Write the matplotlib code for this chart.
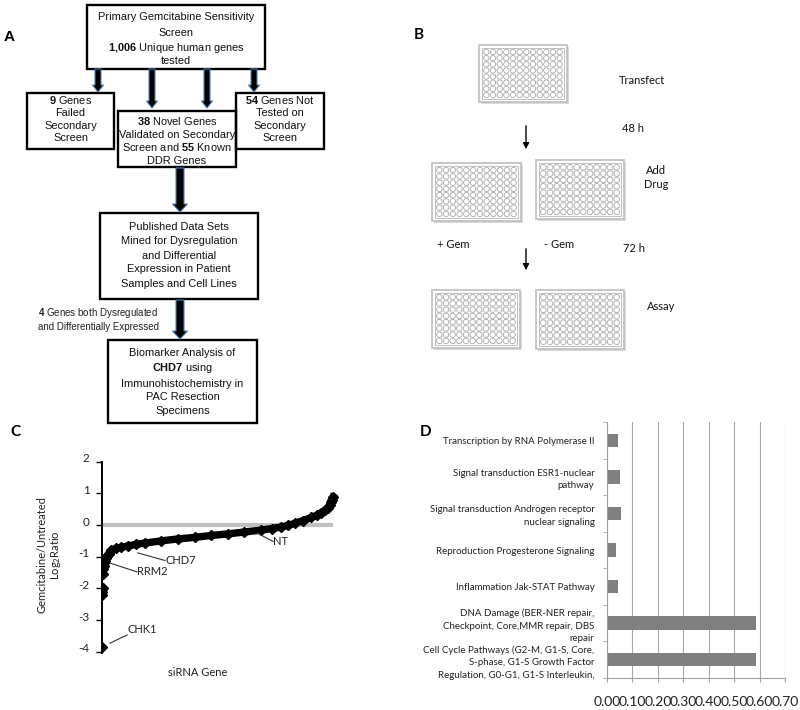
import numpy as np
import matplotlib.pyplot as plt
import matplotlib.transforms as mtransforms
from matplotlib.patches import Rectangle, Circle, FancyArrow

plt.rcParams['mathtext.fontset'] = 'custom'
plt.rcParams['mathtext.rm'] = 'Lato'
plt.rcParams['mathtext.bf'] = 'Liberation Sans:bold'

W, H = 800, 710
SANS_A = 'Liberation Sans'   # flowchart (Arial look)
SANS_B = 'Lato'              # Excel / Calibri look

# ---- panel C: sorted log2 ratios (rank out of 1006 siRNAs) ----
gene_rank = [1, 2, 3, 4, 5, 6, 8, 10, 13, 17, 22, 30, 42, 60, 85, 114, 150,
             186, 259, 330, 404, 475, 549, 620, 694, 740, 781, 810, 839, 875,
             911, 935, 955, 970, 984, 992, 998, 1002, 1006]
log2_ratio = [-3.85, -2.2, -2.1, -2.0, -1.55, -1.4, -1.3, -1.2, -1.12, -1.05,
              -0.98, -0.9, -0.8, -0.74, -0.7, -0.66, -0.61, -0.57, -0.5, -0.44,
              -0.39, -0.33, -0.28, -0.22, -0.16, -0.11, -0.06, -0.01, 0.05,
              0.14, 0.24, 0.31, 0.39, 0.46, 0.55, 0.62, 0.72, 0.8, 0.88]
c_yticks = [-4, -3, -2, -1, 0, 1, 2]
c_genes = ['CHK1', 'RRM2', 'CHD7', 'NT']
c_gene_rank = [36, 36, 157, 675]
c_gene_value = [-3.73, -1.2, -0.88, -0.25]

# ---- panel D: pathway enrichment ----
pathways = ['Transcription by RNA Polymerase II',
            'Signal transduction ESR1-nuclear\npathway',
            'Signal transduction Androgen receptor\nnuclear signaling',
            'Reproduction Progesterone Signaling',
            'Inflammation Jak-STAT Pathway',
            'DNA Damage (BER-NER repair,\nCheckpoint, Core,MMR repair, DBS\nrepair',
            'Cell Cycle Pathways (G2-M, G1-S, Core,\nS-phase, G1-S Growth Factor\nRegulation, G0-G1, G1-S Interleukin,']
pathway_scores = [0.043, 0.05, 0.055, 0.037, 0.043, 0.585, 0.585]
d_xticks = [0.0, 0.1, 0.2, 0.3, 0.4, 0.5, 0.6, 0.7]


def frac(l, t, r, b):
    return [l / W, 1 - b / H, (r - l) / W, (b - t) / H]


fig = plt.figure(figsize=(8, 7.1), dpi=100)
ax0 = fig.add_axes([0, 0, 1, 1])
ax0.set_xlim(0, W)
ax0.set_ylim(H, 0)
ax0.axis('off')

# ---------------- A: flowchart ----------------
boxes = [
    ((87, 5, 265, 69), [17, 33, 48, 61],
     ['Primary Gemcitabine Sensitivity', 'Screen',
      r'$\bf{1{,}006}$ Unique human genes', 'tested']),
    ((27, 93, 114, 149), [100, 113, 126, 138],
     [r'$\bf{9}$ Genes', 'Failed', 'Secondary', 'Screen']),
    ((118, 111, 236, 167), [121, 135, 147, 161],
     [r'$\bf{38}$ Novel Genes', 'Validated on Secondary',
      r'Screen and $\bf{55}$ Known', 'DDR Genes']),
    ((236, 93, 324, 149), [100, 113, 126, 138],
     [r'$\bf{54}$ Genes Not', 'Tested on', 'Secondary', 'Screen']),
    ((100, 213, 258, 299), [227, 241, 256, 269, 284],
     ['Published Data Sets', 'Mined for Dysregulation', 'and Differential',
      'Expression in Patient', 'Samples and Cell Lines']),
    ((108, 340, 257, 423), [353, 368, 384, 397, 411],
     ['Biomarker Analysis of', r'$\bf{CHD7}$ using',
      'Immunohistochemistry in', 'PAC Resection', 'Specimens']),
]
for (l, t, r, b), ys, lines in boxes:
    ax0.add_patch(Rectangle((l, t), r - l, b - t, fill=False,
                            edgecolor='black', lw=1.7))
    cx = (l + r) / 2
    for y, s in zip(ys, lines):
        ax0.text(cx, y, s, ha='center', va='center', fontsize=7.9,
                 family=SANS_A, color='#111111')

# block arrows
small = [(98, 69, 92), (152, 69, 108), (207, 69, 108), (254, 69, 92)]
for x, y0, y1 in small:
    ax0.add_patch(FancyArrow(x, y0, 0, y1 - y0, width=6, head_width=11,
                             head_length=7, length_includes_head=True,
                             facecolor='black', edgecolor='#4f7fb8', lw=0.8))
for y0, y1 in [(168, 212), (300, 339)]:
    ax0.add_patch(FancyArrow(180, y0, 0, y1 - y0, width=8, head_width=15,
                             head_length=8, length_includes_head=True,
                             facecolor='black', edgecolor='#4f7fb8', lw=0.8))
ax0.text(38, 313, r'$\bf{4}$ Genes both Dysregulated', ha='left', va='center',
         fontsize=7, family=SANS_A, color='#222222')
ax0.text(38, 327, 'and Differentially Expressed', ha='left', va='center',
         fontsize=7, family=SANS_A, color='#222222')

# ---------------- B: plate workflow ----------------
def plate(l, t, r, b):
    ax0.add_patch(Rectangle((l + 1.5, t + 1.5), r - l, b - t,
                            facecolor='#dcdcdc', edgecolor='none'))
    ax0.add_patch(Rectangle((l, t), r - l, b - t, facecolor='white',
                            edgecolor='#bdbdbd', lw=1.2))
    il, it, ir, ib = l + 3, t + 3, r - 3, b - 3
    ax0.add_patch(Rectangle((il, it), ir - il, ib - it, fill=False,
                            edgecolor='#b5b5b5', lw=0.6))
    cw = (ir - il - 2) / 12
    ch = (ib - it - 2) / 8
    rad = 0.44 * min(cw, ch)
    for i in range(12):
        for j in range(8):
            ax0.add_patch(Circle((il + 1 + cw * (i + 0.5), it + 1 + ch * (j + 0.5)),
                                 rad, fill=False, edgecolor='#a9a9a9', lw=0.6))


plate(479, 45, 567, 102)
plate(432, 163, 521, 221)
plate(536, 160, 624, 219)
plate(432, 290, 520, 348)
plate(536, 290, 624, 349)

for y0, y1 in [(123, 152), (246, 273)]:
    ax0.annotate('', xy=(526, y1), xytext=(526, y0),
                 arrowprops=dict(arrowstyle='-|>', color='black', lw=1,
                                 mutation_scale=9))
btxt = [('Transfect', 642, 81), ('48 h', 633, 128), ('Add', 656, 171),
        ('Drug', 656, 185), ('+ Gem', 453, 245), ('- Gem', 559, 245),
        ('72 h', 634, 249), ('Assay', 661, 307)]
for s, x, y in btxt:
    ax0.text(x, y, s, ha='center', va='center', fontsize=8, family=SANS_B,
             color='#111111')

# panel letters
ax0.text(9, 37, 'A', fontsize=11, fontweight='bold', family=SANS_A,
         ha='center', va='center')
for s, x, y in [('B', 419, 35), ('C', 15, 432), ('D', 426, 432)]:
    ax0.text(x, y, s, fontsize=11, fontweight='bold', family=SANS_B,
             ha='center', va='center')

# ---------------- C: ranked ratio plot ----------------
axc = fig.add_axes(frac(102, 461.7, 340, 653.3))
axc.set_xlim(1, 1036)
axc.set_ylim(-4.05, 2)
axc.plot([1, 1006], [0, 0], color='#c0c0c0', lw=3, zorder=1,
         solid_capstyle='butt')
axc.plot(gene_rank[5:], log2_ratio[5:], '-', color='black', lw=5.3, zorder=2)
axc.plot(gene_rank, log2_ratio, 'D', color='black', ms=5.2, zorder=3)
for sp in ['top', 'right', 'bottom']:
    axc.spines[sp].set_visible(False)
axc.spines['left'].set_linewidth(1.4)
axc.set_xticks([])
axc.set_yticks(c_yticks)
axc.set_yticklabels([str(v) for v in c_yticks], family=SANS_B, fontsize=8.5,
                    color='#222222')
axc.tick_params(axis='y', length=4, width=1, pad=5)
shift = mtransforms.ScaledTranslation(0, 0.04, fig.dpi_scale_trans)
for lab in axc.get_yticklabels():
    lab.set_transform(lab.get_transform() + shift)
text_off = [(110, -3.47, 'left', 'bottom'), (153, -1.48, 'left', 'center'),
            (275, -1.12, 'left', 'center'), (745, -0.52, 'left', 'center')]
for g, gx, gy, (tx, ty, ha, va) in zip(c_genes, c_gene_rank, c_gene_value, text_off):
    axc.plot([gx, tx], [gy, ty], color='#333333', lw=0.8, zorder=4)
    axc.text(tx, ty, g, ha=ha, va=va, fontsize=8, family=SANS_B,
             color='#222222', zorder=4)
fig.text(42 / W, 1 - 555 / H, 'Gemcitabine/Untreated', rotation=90,
         ha='center', va='center', fontsize=8, family=SANS_B, color='#222222')
fig.text(55 / W, 1 - 555 / H, r'Log$_2$Ratio', rotation=90,
         ha='center', va='center', fontsize=8, family=SANS_B, color='#222222')
fig.text(198 / W, 1 - 672 / H, 'siRNA Gene', ha='center', va='center',
         fontsize=8, family=SANS_B, color='#222222')

# ---------------- D: pathway bars ----------------
axd = fig.add_axes(frac(607, 422, 785, 678))
ypos = np.arange(len(pathways))
axd.barh(ypos, pathway_scores, height=0.37, color='#808080', zorder=2)
axd.set_xlim(0, 0.7)
axd.set_ylim(len(pathways) - 0.5, -0.5)
axd.set_xticks(d_xticks)
axd.set_xticklabels(['%.2f' % v for v in d_xticks], family=SANS_B,
                    fontsize=10, color='#222222')
axd.set_yticks(ypos)
axd.set_yticklabels(pathways, family=SANS_B, fontsize=7, color='#222222',
                    linespacing=1.5)
axd.set_yticks(np.arange(-0.5, len(pathways), 1), minor=True)
axd.tick_params(axis='y', which='major', length=0, pad=9)
axd.tick_params(axis='y', which='minor', length=3, color='#a0a0a0')
axd.tick_params(axis='x', length=3, color='#a0a0a0', pad=10)
axd.grid(axis='x', color='#a8a8a8', lw=0.8, zorder=0)
for sp in ['top', 'right']:
    axd.spines[sp].set_visible(False)
for sp in ['left', 'bottom']:
    axd.spines[sp].set_color('#a0a0a0')
    axd.spines[sp].set_linewidth(0.8)

fig.savefig('out.png', dpi=100, facecolor='white')
